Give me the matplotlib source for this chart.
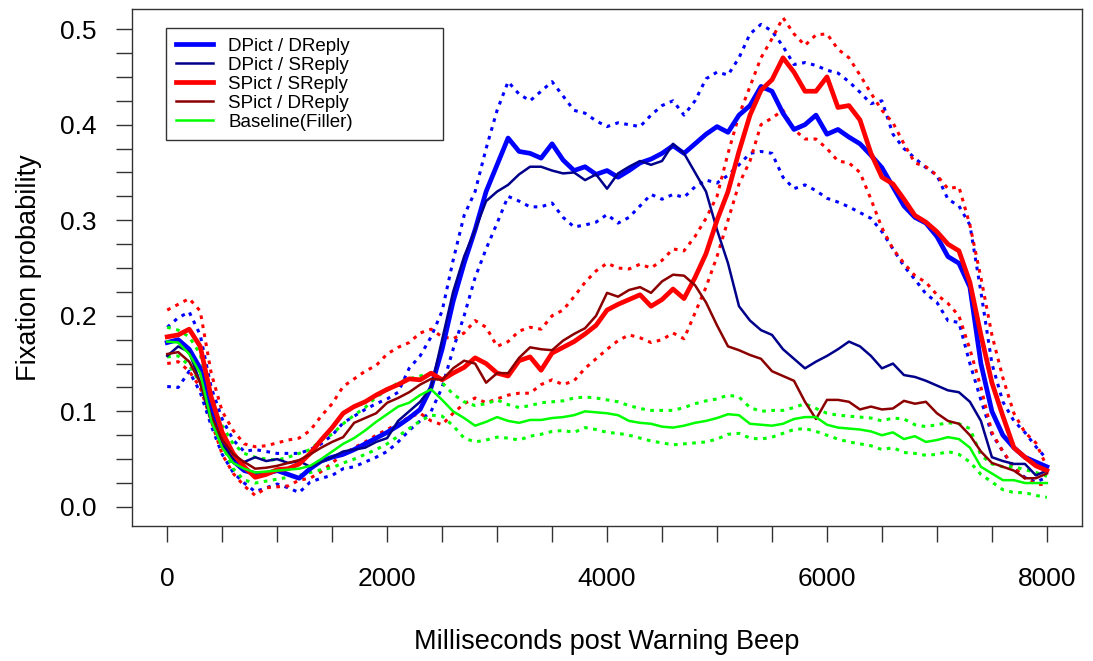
import numpy as np
import matplotlib.pyplot as plt

###################################################################
#                 Data
#   one value every 100 ms, 0 .. 8000 ms post warning beep
###################################################################
t_ms = np.arange(0, 8001, 100)

dpict_dreply = [0.172, 0.175, 0.165, 0.145, 0.105, 0.07, 0.048, 0.038, 0.035, 0.035,
                0.038, 0.034, 0.03, 0.04, 0.048, 0.052, 0.055, 0.06, 0.066, 0.072,
                0.078, 0.085, 0.093, 0.102, 0.125, 0.165, 0.215, 0.255, 0.29, 0.33,
                0.358, 0.386, 0.372, 0.37, 0.365, 0.38, 0.363, 0.352, 0.356, 0.348,
                0.352, 0.345, 0.352, 0.36, 0.364, 0.37, 0.378, 0.37, 0.38, 0.39,
                0.398, 0.392, 0.41, 0.42, 0.44, 0.435, 0.412, 0.395, 0.4, 0.41,
                0.39, 0.395, 0.387, 0.38, 0.368, 0.355, 0.335, 0.315, 0.303, 0.297,
                0.283, 0.262, 0.255, 0.23, 0.15, 0.1, 0.075, 0.062, 0.052, 0.047,
                0.042]
dpict_dreply_hi = [0.188, 0.198, 0.204, 0.18, 0.125, 0.092, 0.07, 0.058, 0.06, 0.058,
                   0.056, 0.056, 0.056, 0.06, 0.066, 0.075, 0.088, 0.095, 0.102, 0.108,
                   0.113, 0.12, 0.145, 0.158, 0.178, 0.205, 0.258, 0.305, 0.33, 0.375,
                   0.415, 0.445, 0.432, 0.425, 0.435, 0.445, 0.43, 0.415, 0.412, 0.404,
                   0.398, 0.402, 0.4, 0.398, 0.41, 0.42, 0.425, 0.41, 0.425, 0.448,
                   0.455, 0.452, 0.47, 0.495, 0.505, 0.498, 0.482, 0.463, 0.465, 0.462,
                   0.457, 0.454, 0.445, 0.434, 0.422, 0.425, 0.39, 0.375, 0.365, 0.355,
                   0.347, 0.322, 0.315, 0.295, 0.225, 0.15, 0.11, 0.09, 0.078, 0.063,
                   0.05]
dpict_dreply_lo = [0.126, 0.125, 0.142, 0.12, 0.085, 0.055, 0.036, 0.025, 0.016, 0.02,
                   0.024, 0.02, 0.015, 0.026, 0.03, 0.033, 0.04, 0.042, 0.047, 0.052,
                   0.058, 0.068, 0.08, 0.09, 0.1, 0.125, 0.165, 0.2, 0.24, 0.27,
                   0.297, 0.325, 0.32, 0.314, 0.314, 0.318, 0.303, 0.293, 0.295, 0.298,
                   0.306, 0.297, 0.303, 0.315, 0.327, 0.322, 0.327, 0.324, 0.335, 0.342,
                   0.339, 0.347, 0.358, 0.37, 0.372, 0.37, 0.345, 0.333, 0.337, 0.331,
                   0.323, 0.319, 0.314, 0.308, 0.302, 0.288, 0.27, 0.252, 0.238, 0.223,
                   0.214, 0.195, 0.193, 0.15, 0.112, 0.076, 0.058, 0.04, 0.031, 0.026,
                   0.031]

dpict_sreply = [0.158, 0.168, 0.162, 0.13, 0.09, 0.065, 0.05, 0.047, 0.052, 0.048,
                0.05, 0.046, 0.048, 0.042, 0.047, 0.052, 0.058, 0.06, 0.062, 0.068,
                0.072, 0.09, 0.1, 0.11, 0.125, 0.175, 0.225, 0.262, 0.29, 0.32,
                0.33, 0.337, 0.348, 0.356, 0.356, 0.352, 0.349, 0.35, 0.342, 0.348,
                0.333, 0.349, 0.356, 0.362, 0.358, 0.362, 0.38, 0.37, 0.35, 0.33,
                0.29, 0.255, 0.21, 0.195, 0.185, 0.18, 0.165, 0.155, 0.145, 0.152,
                0.158, 0.165, 0.173, 0.168, 0.158, 0.145, 0.15, 0.138, 0.136, 0.132,
                0.127, 0.122, 0.12, 0.11, 0.09, 0.052, 0.048, 0.045, 0.045, 0.033,
                0.038]

spict_sreply = [0.178, 0.18, 0.186, 0.168, 0.115, 0.078, 0.056, 0.042, 0.031, 0.034,
                0.039, 0.04, 0.045, 0.056, 0.07, 0.083, 0.098, 0.105, 0.11, 0.117,
                0.123, 0.128, 0.134, 0.133, 0.14, 0.133, 0.14, 0.146, 0.156, 0.15,
                0.14, 0.137, 0.153, 0.157, 0.143, 0.161, 0.167, 0.173, 0.181, 0.19,
                0.206, 0.212, 0.217, 0.222, 0.21, 0.217, 0.228, 0.218, 0.24, 0.265,
                0.3, 0.33, 0.372, 0.41, 0.436, 0.447, 0.47, 0.455, 0.435, 0.435,
                0.45, 0.418, 0.42, 0.405, 0.37, 0.345, 0.338, 0.322, 0.305, 0.298,
                0.288, 0.275, 0.268, 0.235, 0.18, 0.13, 0.095, 0.062, 0.052, 0.043,
                0.038]
spict_sreply_hi = [0.206, 0.212, 0.218, 0.205, 0.14, 0.1, 0.08, 0.066, 0.063, 0.064,
                   0.067, 0.07, 0.072, 0.08, 0.095, 0.108, 0.126, 0.134, 0.142, 0.148,
                   0.16, 0.167, 0.172, 0.182, 0.186, 0.178, 0.176, 0.182, 0.195, 0.188,
                   0.168, 0.173, 0.184, 0.188, 0.186, 0.2, 0.206, 0.22, 0.235, 0.247,
                   0.255, 0.25, 0.249, 0.254, 0.25, 0.258, 0.27, 0.268, 0.283, 0.302,
                   0.325, 0.37, 0.41, 0.44, 0.47, 0.49, 0.512, 0.495, 0.483, 0.494,
                   0.495, 0.479, 0.47, 0.452, 0.433, 0.415, 0.402, 0.38, 0.36, 0.356,
                   0.347, 0.333, 0.335, 0.295, 0.24, 0.18, 0.135, 0.098, 0.078, 0.067,
                   0.042]
spict_sreply_lo = [0.15, 0.152, 0.142, 0.125, 0.09, 0.055, 0.035, 0.022, 0.012, 0.02,
                   0.021, 0.022, 0.028, 0.03, 0.037, 0.046, 0.055, 0.062, 0.068, 0.075,
                   0.081, 0.087, 0.094, 0.098, 0.09, 0.086, 0.098, 0.108, 0.114, 0.109,
                   0.113, 0.117, 0.119, 0.119, 0.128, 0.133, 0.128, 0.132, 0.145, 0.155,
                   0.165, 0.174, 0.18, 0.177, 0.172, 0.175, 0.182, 0.176, 0.203, 0.23,
                   0.262, 0.3, 0.338, 0.362, 0.4, 0.407, 0.415, 0.395, 0.385, 0.385,
                   0.375, 0.362, 0.36, 0.35, 0.322, 0.292, 0.27, 0.255, 0.242, 0.235,
                   0.222, 0.213, 0.2, 0.165, 0.125, 0.078, 0.058, 0.042, 0.03, 0.024,
                   0.023]

spict_dreply = [0.16, 0.162, 0.152, 0.13, 0.095, 0.07, 0.055, 0.047, 0.04, 0.041,
                0.043, 0.046, 0.049, 0.055, 0.062, 0.068, 0.073, 0.088, 0.093, 0.098,
                0.109, 0.114, 0.12, 0.128, 0.134, 0.133, 0.145, 0.153, 0.15, 0.13,
                0.14, 0.14, 0.156, 0.167, 0.165, 0.164, 0.174, 0.181, 0.187, 0.2,
                0.224, 0.22, 0.227, 0.23, 0.224, 0.236, 0.243, 0.242, 0.232, 0.214,
                0.19, 0.168, 0.164, 0.159, 0.155, 0.142, 0.137, 0.132, 0.11, 0.092,
                0.112, 0.112, 0.11, 0.102, 0.105, 0.102, 0.103, 0.111, 0.108, 0.11,
                0.098, 0.09, 0.087, 0.075, 0.058, 0.046, 0.042, 0.038, 0.03, 0.03,
                0.035]

baseline = [0.173, 0.172, 0.16, 0.14, 0.09, 0.062, 0.046, 0.04, 0.036, 0.037,
            0.038, 0.039, 0.04, 0.043, 0.05, 0.058, 0.066, 0.072, 0.08, 0.089,
            0.097, 0.105, 0.109, 0.117, 0.123, 0.112, 0.1, 0.093, 0.085, 0.089,
            0.094, 0.09, 0.088, 0.091, 0.091, 0.093, 0.094, 0.096, 0.1, 0.099,
            0.098, 0.096, 0.09, 0.088, 0.087, 0.084, 0.083, 0.085, 0.088, 0.09,
            0.093, 0.097, 0.096, 0.087, 0.086, 0.085, 0.087, 0.092, 0.094, 0.094,
            0.086, 0.083, 0.082, 0.081, 0.079, 0.075, 0.078, 0.071, 0.074, 0.068,
            0.07, 0.073, 0.071, 0.062, 0.042, 0.035, 0.028, 0.028, 0.025, 0.025,
            0.025]
baseline_hi = [0.188, 0.185, 0.178, 0.16, 0.11, 0.085, 0.066, 0.056, 0.052, 0.05,
               0.049, 0.052, 0.056, 0.06, 0.07, 0.076, 0.087, 0.096, 0.104, 0.115,
               0.122, 0.13, 0.134, 0.137, 0.14, 0.13, 0.118, 0.11, 0.106, 0.108,
               0.112, 0.107, 0.104, 0.106, 0.109, 0.11, 0.111, 0.114, 0.115, 0.114,
               0.112, 0.11, 0.106, 0.103, 0.101, 0.101, 0.101, 0.104, 0.108, 0.111,
               0.113, 0.117, 0.115, 0.104, 0.1, 0.101, 0.101, 0.104, 0.108, 0.103,
               0.098, 0.096, 0.095, 0.094, 0.093, 0.09, 0.093, 0.092, 0.086, 0.084,
               0.086, 0.088, 0.087, 0.082, 0.054, 0.045, 0.042, 0.042, 0.039, 0.036,
               0.032]
baseline_lo = [0.157, 0.158, 0.148, 0.13, 0.1, 0.065, 0.04, 0.028, 0.025, 0.027,
               0.029, 0.031, 0.033, 0.036, 0.039, 0.041, 0.046, 0.05, 0.055, 0.06,
               0.066, 0.074, 0.082, 0.09, 0.096, 0.095, 0.085, 0.072, 0.068, 0.07,
               0.073, 0.072, 0.07, 0.074, 0.076, 0.079, 0.08, 0.078, 0.083, 0.081,
               0.078, 0.077, 0.075, 0.072, 0.069, 0.067, 0.065, 0.066, 0.067, 0.068,
               0.071, 0.076, 0.077, 0.072, 0.071, 0.073, 0.077, 0.081, 0.082, 0.079,
               0.075, 0.071, 0.068, 0.066, 0.064, 0.06, 0.062, 0.057, 0.056, 0.054,
               0.055, 0.058, 0.055, 0.047, 0.034, 0.026, 0.018, 0.015, 0.015, 0.012,
               0.01]

x_ticks = np.arange(0, 8001, 500)
x_labels = ['0', '', '', '', '2000', '', '', '', '4000', '', '', '', '6000', '', '', '', '8000']
y_ticks = np.arange(0, 0.5001, 0.025)
y_labels = ['0.0', '', '', '', '0.1', '', '', '', '0.2', '', '', '', '0.3', '', '', '',
            '0.4', '', '', '', '0.5']
#------------------------------------------------------------------

plt.rcParams['font.family'] = ['Liberation Sans', 'DejaVu Sans']

fig = plt.figure(figsize=(10.93, 6.61), dpi=100)
ax = fig.add_axes([0.1208, 0.2042, 0.8692, 0.7821])

dots = (0, (1.2, 1.8))

# confidence bands (dotted)
ax.plot(t_ms, dpict_dreply_hi, color='#0000ff', lw=2.2, ls=dots)
ax.plot(t_ms, dpict_dreply_lo, color='#0000ff', lw=2.2, ls=dots)
ax.plot(t_ms, spict_sreply_hi, color='#ff0000', lw=2.2, ls=dots)
ax.plot(t_ms, spict_sreply_lo, color='#ff0000', lw=2.2, ls=dots)
ax.plot(t_ms, baseline_hi, color='#00ff00', lw=2.2, ls=dots)
ax.plot(t_ms, baseline_lo, color='#00ff00', lw=2.2, ls=dots)

# mean curves
ax.plot(t_ms, dpict_dreply, color='#0000ff', lw=3.4, label='DPict / DReply')
ax.plot(t_ms, dpict_sreply, color='#00008b', lw=1.8, label='DPict / SReply')
ax.plot(t_ms, spict_sreply, color='#ff0000', lw=3.4, label='SPict / SReply')
ax.plot(t_ms, spict_dreply, color='#8b0000', lw=1.8, label='SPict / DReply')
ax.plot(t_ms, baseline, color='#00ff00', lw=1.8, label='Baseline(Filler)')

ax.set_xlim(-320, 8320)
ax.set_ylim(-0.02, 0.521)
ax.set_xticks(x_ticks)
ax.set_xticklabels(x_labels)
ax.set_yticks(y_ticks)
ax.set_yticklabels(y_labels)
ax.tick_params(axis='both', direction='out', length=11.5, width=1, color='#333333',
               labelsize=19)
ax.tick_params(axis='x', pad=18)
ax.tick_params(axis='y', pad=14)
for s in ax.spines.values():
    s.set_linewidth(1)
    s.set_color('#333333')

ax.set_xlabel('Milliseconds post Warning Beep', fontsize=19.5)
ax.xaxis.set_label_coords(0.5, -0.20)
ax.set_ylabel('Fixation probability', fontsize=19.5)
ax.yaxis.set_label_coords(-0.095, 0.5)

leg = ax.legend(loc='upper left', bbox_to_anchor=(0.0359, 0.7427, 0.2914, 0.2205),
                mode='expand', borderaxespad=0, fontsize=13.5, handlelength=2.0,
                handletextpad=0.8, labelspacing=0.1, borderpad=0.5,
                fancybox=False, framealpha=1)
leg.get_frame().set_edgecolor('#333333')
leg.get_frame().set_linewidth(1)

plt.savefig('out.png', dpi=100)
